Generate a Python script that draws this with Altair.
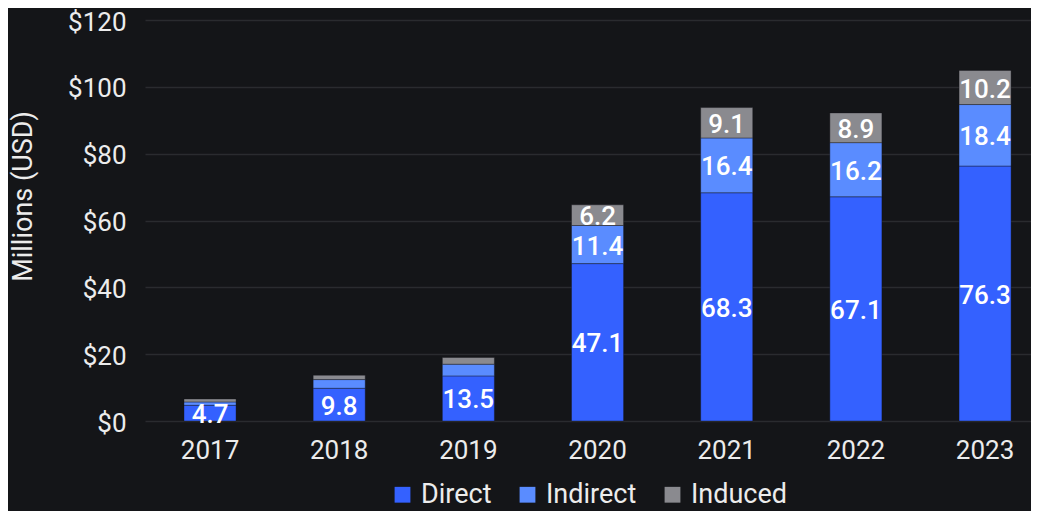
import altair as alt
import pandas as pd

years = ["2017", "2018", "2019", "2020", "2021", "2022", "2023"]
direct = [4.7, 9.8, 13.5, 47.1, 68.3, 67.1, 76.3]
indirect = [1.0, 2.6, 3.5, 11.4, 16.4, 16.2, 18.4]
induced = [0.9, 1.3, 2.0, 6.2, 9.1, 8.9, 10.2]
series = ["Direct", "Indirect", "Induced"]
colors = ["#3461ff", "#5a8cff", "#8a8a8f"]
y_ticks = [0, 20, 40, 60, 80, 100, 120]

rows = []
for i, yr in enumerate(years):
    base = 0.0
    for k, (name, vals) in enumerate(zip(series, [direct, indirect, induced])):
        v = vals[i]
        rows.append({
            "year": yr, "series": name, "order": k, "value": v,
            "y0": base, "y1": base + v, "mid": base + v / 2,
            "label": f"{v:.1f}" if v >= 4 else "",
        })
        base += v
df = pd.DataFrame(rows)

FONT = "Roboto"
TXT = "#ececec"
BG = "#141518"

x = alt.X("year:N", title=None,
          scale=alt.Scale(paddingInner=0.597, paddingOuter=0.228, align=0.662),
          axis=alt.Axis(labelAngle=0, ticks=False, tickSize=0, domain=False,
                        labelPadding=16, labelFontSize=26, labelColor=TXT,
                        labelFont=FONT, grid=False))

bars = alt.Chart(df).mark_bar(stroke=BG, strokeWidth=0.4).encode(
    x=x,
    y=alt.Y("y1:Q", title="Millions (USD)",
            scale=alt.Scale(domain=[0, 120], nice=False),
            axis=alt.Axis(values=y_ticks, labelExpr="'$' + datum.value",
                          ticks=False, tickSize=0, domain=False, grid=True,
                          gridColor="#2a2b2f", gridWidth=1.5,
                          labelFontSize=26, labelColor=TXT, labelFont=FONT,
                          labelPadding=19, labelOffset=2,
                          titleFontSize=27, titleColor=TXT,
                          titleFont=FONT, titleFontWeight="normal",
                          titleAngle=-90, titleAlign="center",
                          titleBaseline="middle",
                          titleX=-122, titleY=176)),
    y2="y0:Q",
    color=alt.Color("series:N", sort=series,
                    scale=alt.Scale(domain=series, range=colors),
                    legend=alt.Legend(title=None, orient="none",
                                      legendX=244, legendY=461,
                                      direction="horizontal", symbolType="square",
                                      symbolSize=250, symbolStrokeWidth=0,
                                      labelFontSize=27, labelColor=TXT,
                                      labelFont=FONT, labelOffset=5,
                                      columnPadding=22)),
    order=alt.Order("order:Q"),
)

labels = alt.Chart(df).mark_text(
    color="white", fontSize=26, font=FONT, fontWeight=500,
    baseline="middle", align="center", dy=2,
).encode(
    x=alt.X("year:N"),
    y=alt.Y("mid:Q"),
    text="label:N",
)

chart = (bars + labels).properties(
    width=886, height=401, background=BG,
    autosize=alt.AutoSizeParams(type="none"),
    padding={"left": 137, "top": 12, "right": 0, "bottom": 90},
).configure_view(stroke=None)

chart.save("out.html", embed_options={"renderer": "svg", "actions": False})
